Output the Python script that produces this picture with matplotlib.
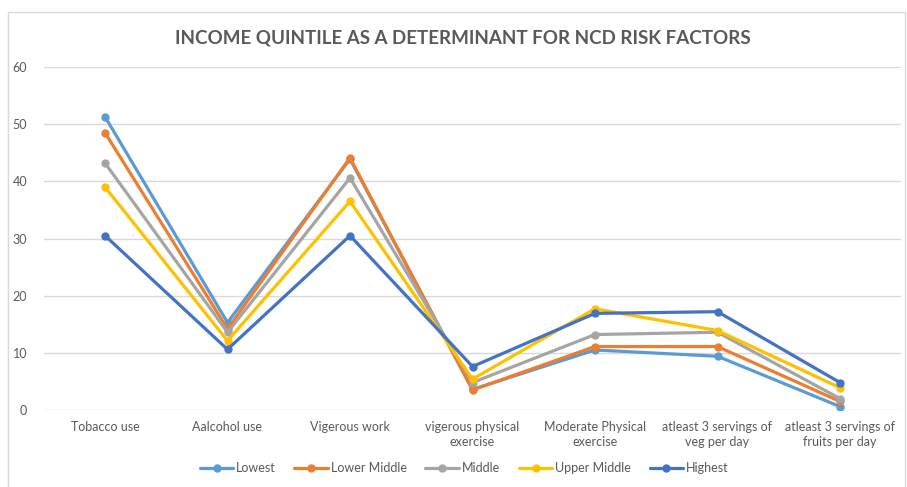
import matplotlib
matplotlib.use("Agg")
import matplotlib.pyplot as plt
from matplotlib.patches import Rectangle

categories = [
    "Tobacco use",
    "Aalcohol use",
    "Vigerous work",
    "vigerous physical\nexercise",
    "Moderate Physical\nexercise",
    "atleast 3 servings of\nveg per day",
    "atleast 3 servings of\nfruits per day",
]

lowest = [51.3, 15.3, 43.9, 3.6, 10.5, 9.4, 0.6]
lower_middle = [48.5, 14.2, 44.1, 3.5, 11.1, 11.1, 1.5]
middle = [43.2, 13.6, 40.6, 4.8, 13.2, 13.6, 2.0]
upper_middle = [39.0, 12.1, 36.5, 5.4, 17.7, 13.9, 3.9]
highest = [30.5, 10.6, 30.5, 7.6, 16.9, 17.2, 4.8]

series_names = ["Lowest", "Lower Middle", "Middle", "Upper Middle", "Highest"]
series_values = [lowest, lower_middle, middle, upper_middle, highest]
colors = ["#5B9BD5", "#ED7D31", "#A5A5A5", "#FFC000", "#4472C4"]

yticks = [0, 10, 20, 30, 40, 50, 60]

plt.rcParams["font.family"] = ["Lato", "DejaVu Sans"]

W, H = 907, 487
fig = plt.figure(figsize=(W / 100, H / 100), dpi=100)
fig.patch.set_facecolor("white")

# chart area border
fig.add_artist(Rectangle((8 / W, -0.05), (W - 10) / W, 1.05 - 12 / H,
                         transform=fig.transFigure, fill=False,
                         edgecolor="#D9D9D9", linewidth=1.0))

ax = fig.add_axes([43.75 / W, (H - 410) / H, 857.5 / W, 343 / H])
x = list(range(len(categories)))
for name, vals, c in zip(series_names, series_values, colors):
    ax.plot(x, vals, color=c, linewidth=2.3, marker="o", markersize=5,
            label=name, solid_capstyle="round")

ax.set_xlim(-0.5, len(categories) - 0.5)
ax.set_ylim(0, 60)
ax.set_yticks(yticks)
ax.set_xticks(x)
ax.set_xticklabels(categories, fontsize=9, color="#595959", linespacing=1.25)
ax.tick_params(axis="both", length=0, labelsize=9, colors="#595959")
ax.tick_params(axis="y", pad=12)
ax.tick_params(axis="x", pad=8)
ax.grid(axis="y", color="#D9D9D9", linewidth=1.0)
ax.set_axisbelow(True)
for s in ax.spines.values():
    s.set_visible(False)

fig.text(463 / W, 1 - 38 / H,
         "INCOME QUINTILE AS A DETERMINANT FOR NCD RISK FACTORS",
         ha="center", va="center", fontsize=13.5, fontweight="bold",
         color="#595959")

fig.legend(loc="center", bbox_to_anchor=(464 / W, 1 - 468 / H), ncol=5,
           frameon=False, fontsize=9, labelcolor="#595959",
           handlelength=2.7, handletextpad=0.2, columnspacing=1.5)

fig.savefig("out.png", dpi=100)
